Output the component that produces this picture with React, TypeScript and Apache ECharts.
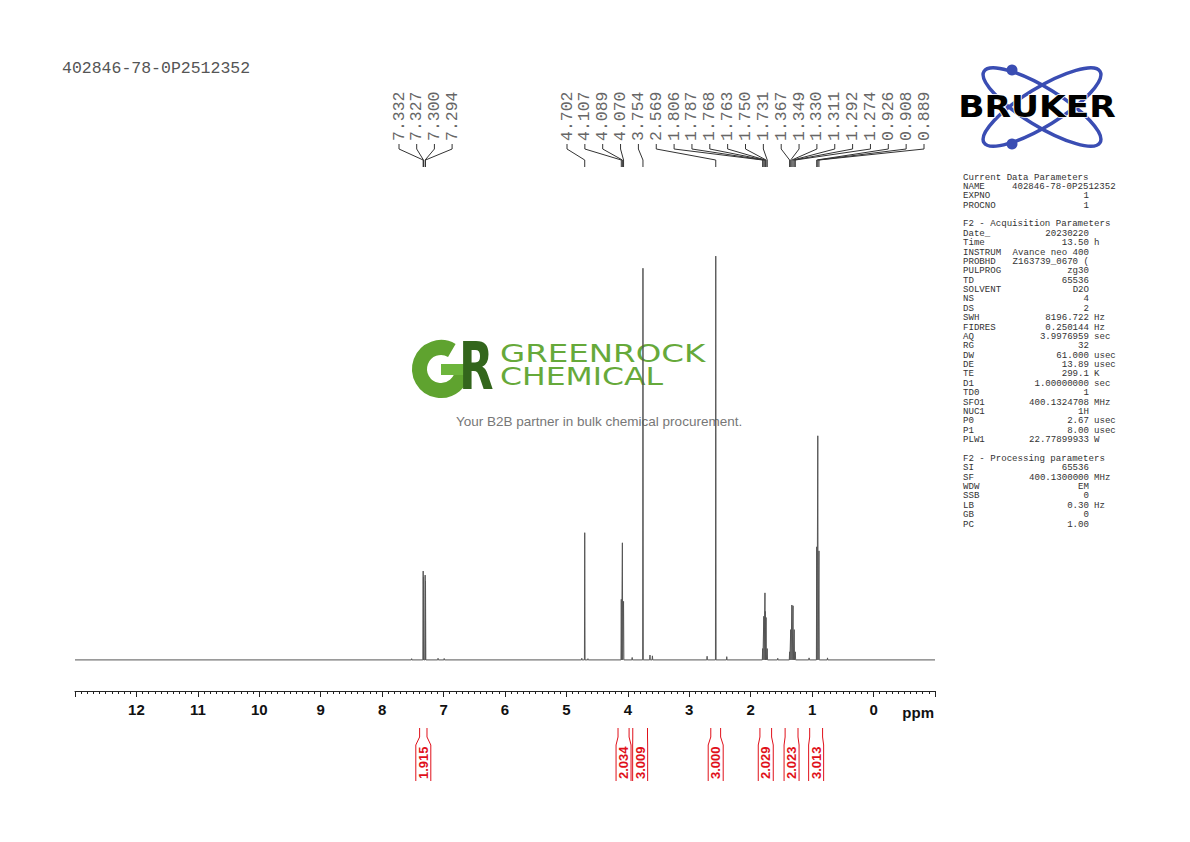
import React, { useEffect, useRef } from 'react';
import * as echarts from 'echarts';

// labelled lines, ppm, and heights (tallest line 2.569 = 100)
const PEAK_PPM = [
  7.332, 7.327, 7.3, 7.294,
  4.702, 4.107, 4.089, 4.07, 3.754, 2.569,
  1.806, 1.787, 1.768, 1.763, 1.75, 1.731,
  1.367, 1.349, 1.33, 1.311, 1.292, 1.274,
  0.926, 0.908, 0.889,
];
const PEAK_HEIGHT = [
  22, 20.5, 21, 19.5,
  31.5, 15, 29, 14.5, 97, 100,
  2.8, 10.8, 16.6, 12, 10.5, 2.8,
  2, 7.5, 13.6, 13.4, 7.5, 2,
  28, 55.5, 27,
];
// small unlabelled bumps
const MINOR_PPM = [7.52, 7.09, 6.99, 4.75, 4.65, 3.93, 3.64, 3.6, 2.71, 2.39, 1.56, 1.05, 0.75];
const MINOR_HEIGHT = [0.3, 0.4, 0.35, 0.4, 0.3, 0.6, 1.2, 1.0, 0.9, 0.8, 0.4, 0.5, 0.5];

// integrals
const INT_FROM = [7.39, 4.16, 3.92, 2.65, 1.85, 1.44, 1.04];
const INT_TO = [7.27, 3.98, 3.68, 2.49, 1.66, 1.23, 0.83];
const INT_VALUE = ['1.915', '2.034', '3.009', '3.000', '2.029', '2.023', '3.013'];

const SAMPLE_NAME = '402846-78-0P2512352';

const PARAM_ROWS: [string, string, string][] = [
  ['Current Data Parameters', '', ''],
  ['NAME', SAMPLE_NAME, ''],
  ['EXPNO', '1', ''],
  ['PROCNO', '1', ''],
  ['', '', ''],
  ['F2 - Acquisition Parameters', '', ''],
  ['Date_', '20230220', ''],
  ['Time', '13.50', 'h'],
  ['INSTRUM', 'Avance neo 400', ''],
  ['PROBHD', 'Z163739_0670 (', ''],
  ['PULPROG', 'zg30', ''],
  ['TD', '65536', ''],
  ['SOLVENT', 'D2O', ''],
  ['NS', '4', ''],
  ['DS', '2', ''],
  ['SWH', '8196.722', 'Hz'],
  ['FIDRES', '0.250144', 'Hz'],
  ['AQ', '3.9976959', 'sec'],
  ['RG', '32', ''],
  ['DW', '61.000', 'usec'],
  ['DE', '13.89', 'usec'],
  ['TE', '299.1', 'K'],
  ['D1', '1.00000000', 'sec'],
  ['TD0', '1', ''],
  ['SFO1', '400.1324708', 'MHz'],
  ['NUC1', '1H', ''],
  ['P0', '2.67', 'usec'],
  ['P1', '8.00', 'usec'],
  ['PLW1', '22.77899933', 'W'],
  ['', '', ''],
  ['F2 - Processing parameters', '', ''],
  ['SI', '65536', ''],
  ['SF', '400.1300000', 'MHz'],
  ['WDW', 'EM', ''],
  ['SSB', '0', ''],
  ['LB', '0.30', 'Hz'],
  ['GB', '0', ''],
  ['PC', '1.00', ''],
];

const MONO = '"Liberation Mono", "DejaVu Sans Mono", monospace';
const SANS = '"Liberation Sans", Arial, sans-serif';
const LINE_HALF = 0.005; // ppm, half width of a drawn line

const App: React.FC = () => {
  const chartRef = useRef<HTMLDivElement>(null);

  useEffect(() => {
    if (!chartRef.current) return undefined;
    const chart = echarts.init(chartRef.current, undefined, { renderer: 'svg' });

    const lines = [
      ...PEAK_PPM.map((p, i) => [p, PEAK_HEIGHT[i]]),
      ...MINOR_PPM.map((p, i) => [p, MINOR_HEIGHT[i]]),
    ].sort((a, b) => b[0] - a[0]);
    const spectrum: number[][] = [[13, 0]];
    lines.forEach(([p, h]) => {
      spectrum.push([p + LINE_HALF, 0], [p, h], [p - LINE_HALF, 0]);
    });
    spectrum.push([-1, 0]);

    // parameter panel
    const paramEls: any[] = [];
    PARAM_ROWS.forEach(([key, val, unit], i) => {
      const y = 177 + i * 9.38;
      const st = { font: `9.1px ${MONO}`, fill: '#333', textVerticalAlign: 'middle' };
      if (key) paramEls.push({ type: 'text', x: 963, y, style: { ...st, text: key, textAlign: 'left' } });
      if (val) {
        const long = val.length > 16;
        paramEls.push({
          type: 'text', x: long ? 1012 : 1089, y,
          style: { ...st, text: val, textAlign: long ? 'left' : 'right' },
        });
      }
      if (unit) paramEls.push({ type: 'text', x: 1094, y, style: { ...st, text: unit, textAlign: 'left' } });
    });

    const blue = '#3a4db3';
    const option: any = {
      animation: false,
      backgroundColor: '#fff',
      grid: { left: 75, right: 255, top: 160, bottom: 151 },
      xAxis: {
        type: 'value',
        min: -1,
        max: 13,
        interval: 1,
        inverse: true,
        axisLine: { onZero: false, lineStyle: { color: '#222', width: 1 } },
        axisTick: { length: 6, lineStyle: { color: '#222' } },
        minorTick: { show: true, splitNumber: 10, length: 3, lineStyle: { color: '#222' } },
        splitLine: { show: false },
        minorSplitLine: { show: false },
        axisLabel: {
          margin: 11,
          fontSize: 15,
          fontWeight: 'bold',
          fontFamily: SANS,
          color: '#111',
          formatter: (v: number) => (v < 0 || v > 12 ? '' : String(v)),
        },
      },
      yAxis: { type: 'value', min: -7.7, max: 123.8, show: false },
      series: [
        {
          type: 'line',
          data: spectrum,
          symbol: 'none',
          lineStyle: { color: '#555', width: 1 },
          z: 5,
          silent: true,
        },
        {
          // peak labels and their connectors
          type: 'custom',
          clip: false,
          silent: true,
          z: 5,
          data: PEAK_PPM.map((p) => [p, 0]),
          renderItem: (params: any, api: any) => {
            const i = params.dataIndex;
            const lx = i < 4 ? 399 + i * 17.7 : 567 + (i - 4) * 17.85;
            const px = api.coord([api.value(0), 0])[0];
            return {
              type: 'group',
              children: [
                {
                  type: 'polyline',
                  shape: { points: [[lx, 144], [lx, 149], [px, 160], [px, 167]] },
                  style: { stroke: '#333', lineWidth: 1, fill: null },
                },
                {
                  type: 'text',
                  x: lx,
                  y: 141,
                  rotation: Math.PI / 2,
                  style: {
                    text: PEAK_PPM[i].toFixed(3),
                    font: `16.5px ${MONO}`,
                    fill: '#666',
                    textAlign: 'left',
                    textVerticalAlign: 'middle',
                  },
                },
              ],
            };
          },
        },
        {
          // integrals
          type: 'custom',
          clip: false,
          silent: true,
          z: 5,
          data: INT_FROM.map((f, i) => [f, INT_TO[i]]),
          renderItem: (params: any, api: any) => {
            const i = params.dataIndex;
            const x1 = api.coord([api.value(0), 0])[0];
            const x2 = api.coord([api.value(1), 0])[0];
            const c = (x1 + x2) / 2;
            const hw = Math.max((x2 - x1) / 2, 7.5);
            const red = '#e0101a';
            return {
              type: 'group',
              children: [
                {
                  type: 'polyline',
                  shape: { points: [[x1, 728], [x1, 737], [c - hw, 745], [c - hw, 781]] },
                  style: { stroke: red, lineWidth: 1, fill: null },
                },
                {
                  type: 'polyline',
                  shape: { points: [[x2, 728], [x2, 737], [c + hw, 745], [c + hw, 781]] },
                  style: { stroke: red, lineWidth: 1, fill: null },
                },
                {
                  type: 'text',
                  x: c,
                  y: 779,
                  rotation: Math.PI / 2,
                  style: {
                    text: INT_VALUE[i],
                    font: `bold 13px ${SANS}`,
                    fill: red,
                    textAlign: 'left',
                    textVerticalAlign: 'middle',
                  },
                },
              ],
            };
          },
        },
      ],
      graphic: {
        elements: [
          {
            type: 'text', x: 62, y: 68,
            style: { text: SAMPLE_NAME, font: `16.5px ${MONO}`, fill: '#555', textAlign: 'left', textVerticalAlign: 'middle' },
          },
          {
            type: 'text', x: 934, y: 712,
            style: { text: 'ppm', font: `bold 15px ${SANS}`, fill: '#111', textAlign: 'right', textVerticalAlign: 'middle' },
          },
          // Bruker logo
          {
            type: 'ellipse', x: 1042, y: 107, rotation: 0.55,
            shape: { cx: 0, cy: 0, rx: 68, ry: 19 },
            style: { fill: null, stroke: blue, lineWidth: 3.5 },
          },
          {
            type: 'ellipse', x: 1042, y: 107, rotation: -0.55,
            shape: { cx: 0, cy: 0, rx: 68, ry: 19 },
            style: { fill: null, stroke: blue, lineWidth: 3.5 },
          },
          { type: 'circle', shape: { cx: 1012, cy: 70, r: 5.5 }, style: { fill: blue } },
          { type: 'circle', shape: { cx: 1012, cy: 144, r: 5.5 }, style: { fill: blue } },
          {
            type: 'text', x: 1037, y: 107, scaleX: 1.15,
            style: {
              text: 'BRUKER', font: 'bold 30px "DejaVu Sans", sans-serif', fill: '#000',
              stroke: '#fff', lineWidth: 1.5, textAlign: 'center', textVerticalAlign: 'middle',
            },
          },
          // Greenrock watermark
          {
            type: 'arc',
            shape: { cx: 441, cy: 369, r: 21.5, startAngle: 0, endAngle: 5.24, clockwise: true },
            style: { stroke: '#5fa32f', lineWidth: 15, fill: null },
          },
          { type: 'rect', shape: { x: 441, y: 364, width: 24, height: 11 }, style: { fill: '#6db53c' } },
          {
            type: 'text', x: 459, y: 366, scaleX: 0.68,
            style: { text: 'R', font: 'bold 66px "DejaVu Sans", sans-serif', fill: '#33661c', textAlign: 'left', textVerticalAlign: 'middle' },
          },
          {
            type: 'text', x: 500, y: 353, scaleX: 1.3,
            style: { text: 'GREENROCK', font: '25px "DejaVu Sans", sans-serif', fill: '#66a93a', textAlign: 'left', textVerticalAlign: 'middle' },
          },
          {
            type: 'text', x: 500, y: 377, scaleX: 1.26,
            style: { text: 'CHEMICAL', font: '25px "DejaVu Sans", sans-serif', fill: '#66a93a', textAlign: 'left', textVerticalAlign: 'middle' },
          },
          {
            type: 'text', x: 456, y: 421,
            style: { text: 'Your B2B partner in bulk chemical procurement.', font: `13.5px ${SANS}`, fill: '#777', textAlign: 'left', textVerticalAlign: 'middle' },
          },
          ...paramEls,
        ],
      },
    };

    chart.setOption(option);
    return () => chart.dispose();
  }, []);

  return (
    <div
      ref={chartRef}
      style={{ position: 'fixed', left: 0, top: 0, width: 1190, height: 842, background: '#fff' }}
    />
  );
};

export default App;
